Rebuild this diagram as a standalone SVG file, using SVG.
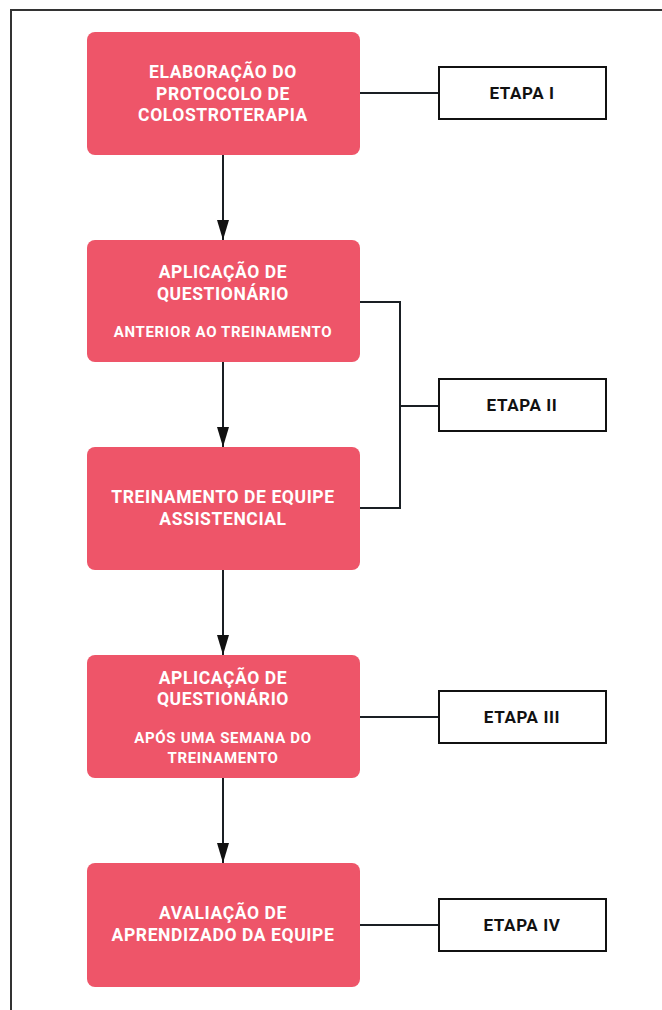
<svg xmlns="http://www.w3.org/2000/svg" width="662" height="1010" viewBox="0 0 662 1010">
<defs>
<marker id="arr" markerWidth="20" markerHeight="12" refX="20" refY="6" orient="auto" markerUnits="userSpaceOnUse" viewBox="0 0 20 12">
<path d="M0,0 L20,6 L0,12 Z" fill="#111"/>
</marker>
<style>
.box{fill:#EE5569;}
.t{font-family:Roboto,"Liberation Sans",sans-serif;font-weight:700;fill:#fff;text-anchor:middle;font-size:17.5px;letter-spacing:0.6px;}
.s{font-size:15px;letter-spacing:0.65px;}
.et{fill:#fff;stroke:#111;stroke-width:2;}
.el{font-family:Roboto,"Liberation Sans",sans-serif;font-weight:700;fill:#111;text-anchor:middle;font-size:17px;letter-spacing:0.6px;}
.c{fill:none;stroke:#1a1f24;stroke-width:2;}
</style>
</defs>
<rect x="0" y="0" width="662" height="1010" fill="#fff"/>
<path d="M11,1010 L11,10 L662,10" fill="none" stroke="#333" stroke-width="2"/>

<g id="connectors">
<line class="c" x1="223" y1="155" x2="223" y2="240" marker-end="url(#arr)"/>
<line class="c" x1="223" y1="362" x2="223" y2="447" marker-end="url(#arr)"/>
<line class="c" x1="223" y1="570" x2="223" y2="655" marker-end="url(#arr)"/>
<line class="c" x1="223" y1="778" x2="223" y2="863" marker-end="url(#arr)"/>
<line class="c" x1="360" y1="93" x2="439" y2="93"/>
<path class="c" d="M360,302 L400,302 L400,508 L360,508"/>
<line class="c" x1="400" y1="406" x2="439" y2="406"/>
<line class="c" x1="360" y1="717" x2="439" y2="717"/>
<line class="c" x1="360" y1="925" x2="439" y2="925"/>
</g>

<g id="n1">
<rect class="box" x="87" y="32" width="273" height="123" rx="8"/>
<text class="t" x="223" y="78">ELABORAÇÃO DO</text>
<text class="t" x="223" y="100">PROTOCOLO DE</text>
<text class="t" x="223" y="121">COLOSTROTERAPIA</text>
</g>
<g id="n2">
<rect class="box" x="87" y="240" width="273" height="122" rx="8"/>
<text class="t" x="223" y="278">APLICAÇÃO DE</text>
<text class="t" x="223" y="300">QUESTIONÁRIO</text>
<text class="t s" x="223" y="337">ANTERIOR AO TREINAMENTO</text>
</g>
<g id="n3">
<rect class="box" x="87" y="447" width="273" height="123" rx="8"/>
<text class="t" x="223" y="503">TREINAMENTO DE EQUIPE</text>
<text class="t" x="223" y="525">ASSISTENCIAL</text>
</g>
<g id="n4">
<rect class="box" x="87" y="655" width="273" height="123" rx="8"/>
<text class="t" x="223" y="684">APLICAÇÃO DE</text>
<text class="t" x="223" y="705">QUESTIONÁRIO</text>
<text class="t s" x="223" y="743">APÓS UMA SEMANA DO</text>
<text class="t s" x="223" y="763">TREINAMENTO</text>
</g>
<g id="n5">
<rect class="box" x="87" y="863" width="273" height="124" rx="8"/>
<text class="t" x="223" y="919">AVALIAÇÃO DE</text>
<text class="t" x="223" y="941">APRENDIZADO DA EQUIPE</text>
</g>

<g id="e1">
<rect class="et" x="439" y="67" width="167" height="52"/>
<text class="el" x="522" y="99">ETAPA I</text>
</g>
<g id="e2">
<rect class="et" x="439" y="379" width="167" height="52"/>
<text class="el" x="522" y="411">ETAPA II</text>
</g>
<g id="e3">
<rect class="et" x="439" y="691" width="167" height="52"/>
<text class="el" x="522" y="723">ETAPA III</text>
</g>
<g id="e4">
<rect class="et" x="439" y="899" width="167" height="52"/>
<text class="el" x="522" y="931">ETAPA IV</text>
</g>
</svg>
